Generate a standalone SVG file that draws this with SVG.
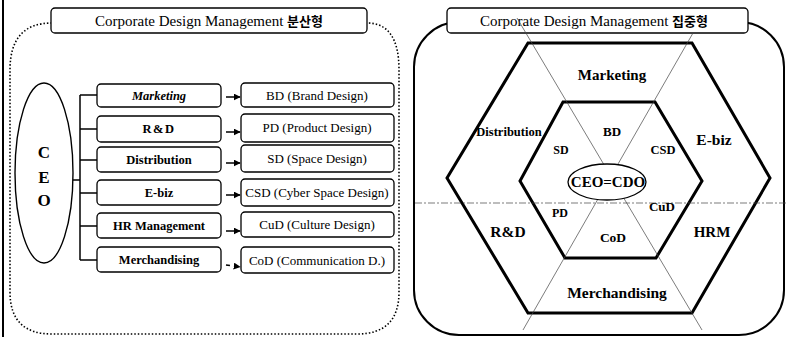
<svg xmlns="http://www.w3.org/2000/svg" width="786" height="337" viewBox="0 0 786 337">
<defs>
<marker id="ah" viewBox="0 0 10 10" refX="9" refY="5" markerWidth="7" markerHeight="7" orient="auto" markerUnits="userSpaceOnUse">
<path d="M0,0 L10,5 L0,10 z" fill="#000"/>
</marker>
<style>
.box{fill:#fff;stroke:#000;stroke-width:1.3}
.mid{font-family:"Liberation Serif","Noto Serif",serif;font-weight:bold;font-size:12.5px;text-anchor:middle}
.rt{font-family:"Liberation Serif",serif;font-size:13px;text-anchor:middle}
.ttl{font-family:"Liberation Serif","Noto Sans CJK KR",serif;font-size:15px;text-anchor:middle}
.hx{font-family:"Liberation Serif",serif;font-weight:bold;text-anchor:middle}
.hex{fill:none;stroke:#000;stroke-width:3;stroke-linejoin:miter}
.thin{stroke:#444;stroke-width:0.7;fill:none}
.link{stroke:#000;stroke-width:1.5;fill:none}
</style>
</defs>
<rect width="786" height="337" fill="#fff"/>
<line x1="3" y1="0" x2="3" y2="337" stroke="#000" stroke-width="2"/>

<!-- left panel frame -->
<g id="left-frame">
<path d="M52,23 Q10,23 10,70 L10,292 Q10,334 52,334 L357,334 Q399,334 399,292 L399,70 Q399,23 367,23" fill="none" stroke="#000" stroke-width="1.6" stroke-dasharray="1.5 2"/>
</g>
<g id="left-title">
<rect x="51" y="8" width="316" height="25" rx="4" class="box"/>
<text x="209" y="26" class="ttl" font-size="16">Corporate Design Management <tspan font-family="Noto Sans CJK KR,sans-serif" font-weight="bold" font-size="13">분산형</tspan></text>
</g>

<!-- right panel frame -->
<g id="right-frame">
<rect x="414" y="22" width="370" height="313" rx="45" fill="none" stroke="#000" stroke-width="2"/>
</g>
<g id="right-title">
<rect x="447" y="8" width="301" height="25" rx="4" class="box"/>
<text x="594" y="26" class="ttl" font-size="15">Corporate Design Management <tspan font-family="Noto Sans CJK KR,sans-serif" font-weight="bold" font-size="13">집중형</tspan></text>
</g>

<!-- left connectors -->
<g id="connectors">
<line x1="73" y1="180" x2="80" y2="180" class="link"/>
<line x1="80" y1="95" x2="80" y2="260" class="link"/>
<line x1="80" y1="95" x2="97" y2="95" class="link"/>
<line x1="80" y1="129" x2="97" y2="129" class="link"/>
<line x1="80" y1="160" x2="97" y2="160" class="link"/>
<line x1="80" y1="193" x2="97" y2="193" class="link"/>
<line x1="80" y1="226" x2="97" y2="226" class="link"/>
<line x1="80" y1="260" x2="97" y2="260" class="link"/>
<line x1="226" y1="97" x2="240" y2="97" class="link" marker-end="url(#ah)"/>
<line x1="226" y1="132" x2="240" y2="132" class="link" marker-end="url(#ah)"/>
<line x1="226" y1="163" x2="240" y2="163" class="link" marker-end="url(#ah)"/>
<line x1="226" y1="195" x2="240" y2="195" class="link" marker-end="url(#ah)"/>
<line x1="226" y1="231" x2="240" y2="231" class="link" marker-end="url(#ah)"/>
<line x1="226" y1="265" x2="240" y2="267" class="link" stroke-dasharray="4 4" marker-end="url(#ah)"/>
</g>

<g id="ceo">
<ellipse cx="44" cy="173" rx="29" ry="90" fill="none" stroke="#000" stroke-width="1.4"/>
<text x="44" y="158" class="hx" font-size="17">C</text>
<text x="44" y="183" class="hx" font-size="17">E</text>
<text x="44" y="206" class="hx" font-size="17">O</text>
</g>

<g id="marketing"><rect x="97" y="84" width="124" height="23" rx="4" class="box"/><text x="159" y="100" class="mid" font-style="italic">Marketing</text></g>
<g id="rd"><rect x="97" y="116" width="124" height="26" rx="4" class="box"/><text x="159" y="133" class="mid" letter-spacing="1.5">R&amp;D</text></g>
<g id="distribution"><rect x="97" y="147" width="124" height="25" rx="4" class="box"/><text x="159" y="164" class="mid">Distribution</text></g>
<g id="ebiz"><rect x="97" y="180" width="124" height="25" rx="4" class="box"/><text x="159" y="197" class="mid">E-biz</text></g>
<g id="hrm"><rect x="97" y="213" width="124" height="25" rx="4" class="box"/><text x="159" y="230" class="mid">HR Management</text></g>
<g id="merch"><rect x="97" y="247" width="124" height="25" rx="4" class="box"/><text x="159" y="264" class="mid" font-size="13">Merchandising</text></g>

<g id="bd"><rect x="241" y="83" width="153" height="24" rx="4" class="box"/><text x="317" y="100" class="rt">BD (Brand Design)</text></g>
<g id="pd"><rect x="241" y="114" width="153" height="28" rx="4" class="box"/><text x="317" y="132" class="rt">PD (Product Design)</text></g>
<g id="sd"><rect x="241" y="145" width="153" height="27" rx="4" class="box"/><text x="317" y="163" class="rt">SD (Space Design)</text></g>
<g id="csd"><rect x="241" y="179" width="153" height="27" rx="4" class="box"/><text x="317" y="197" class="rt">CSD (Cyber Space Design)</text></g>
<g id="cud"><rect x="241" y="212" width="153" height="25" rx="4" class="box"/><text x="317" y="229" class="rt">CuD (Culture Design)</text></g>
<g id="cod"><rect x="241" y="247" width="153" height="26" rx="4" class="box"/><text x="317" y="265" class="rt">CoD (Communication D.)</text></g>

<!-- right diagram -->
<g id="hexagons">
<polygon points="528,43 692,43 770,178 692,313 528,313 447,178" class="hex"/>
<polygon points="563,102 655,102 702,181 656,258 565,258 520,181" class="hex"/>
</g>
<g id="sector-lines">
<line x1="517" y1="18" x2="702" y2="330" class="thin"/>
<line x1="693" y1="33" x2="523" y2="330" class="thin"/>
<line x1="415" y1="203" x2="786" y2="203" class="thin" stroke-dasharray="7 2 2 2"/>
</g>
<g id="ceo-cdo">
<ellipse cx="607" cy="182" rx="39" ry="18" fill="#fff" stroke="#000" stroke-width="1.3"/>
<text x="608" y="187" class="hx" font-size="15">CEO=CDO</text>
</g>
<g id="hex-labels">
<text x="612" y="80" class="hx" font-size="15">Marketing</text>
<text x="509" y="136" class="hx" font-size="12.5">Distribution</text>
<text x="612" y="136" class="hx" font-size="13">BD</text>
<text x="561" y="154" class="hx" font-size="12">SD</text>
<text x="663" y="154" class="hx" font-size="12.5">CSD</text>
<text x="714" y="145" class="hx" font-size="15.5">E-biz</text>
<text x="560" y="217" class="hx" font-size="12">PD</text>
<text x="662" y="211" class="hx" font-size="13">CuD</text>
<text x="508" y="237" class="hx" font-size="15.5">R&amp;D</text>
<text x="613" y="242" class="hx" font-size="13.5">CoD</text>
<text x="712" y="237" class="hx" font-size="15">HRM</text>
<text x="617" y="298" class="hx" font-size="15.5">Merchandising</text>
</g>
</svg>
